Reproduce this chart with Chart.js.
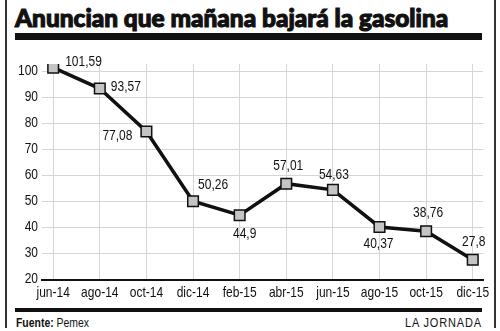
<!DOCTYPE html>
<html>
<head>
<meta charset="utf-8">
<script src="https://cdn.jsdelivr.net/npm/chart.js@4.4.1/dist/chart.umd.min.js"></script>
<style>
  html, body { margin: 0; padding: 0; background: #fff; }
  #wrap { position: relative; width: 500px; height: 331px; overflow: hidden; }
  #chart { position: absolute; left: 0; top: 0; }
  .vline { position: absolute; top: 0; width: 1.5px; height: 328px; background: #333; }
  .title { position: absolute; left: 15px; top: 3px; font-family: Lato, Roboto, "Liberation Sans", sans-serif;
           font-weight: 900; font-size: 24px; color: #111; white-space: nowrap; transform-origin: left top;
           -webkit-text-stroke: 1.1px #111; }
  .bar { position: absolute; left: 15px; width: 467px; background: #111; }
  .foot { position: absolute; top: 315px; font-family: "Liberation Sans", sans-serif;
          font-size: 13px; color: #111; white-space: nowrap; }
</style>
</head>
<body>
<div id="wrap">
  <div class="vline" style="left:5px"></div>
  <div class="vline" style="left:494px"></div>
  <div class="title" id="title">Anuncian que mañana bajará la gasolina</div>
  <div class="bar" style="top:33px;height:7px"></div>
  <canvas id="chart" width="500" height="305"></canvas>
  <div class="bar" style="top:308px;height:4px"></div>
  <div class="foot" id="fuente" style="left:16px;transform-origin:left top"><b>Fuente:</b> Pemex</div>
  <div class="foot" id="jornada" style="right:18px;transform-origin:right top;letter-spacing:1px">LA JORNADA</div>
</div>
<script>
// months shown on the x axis
const months = ["jun-14", "ago-14", "oct-14", "dic-14", "feb-15", "abr-15", "jun-15", "ago-15", "oct-15", "dic-15"];
// price values (dollars per barrel)
const prices = [101.59, 93.57, 77.08, 50.26, 44.9, 57.01, 54.63, 40.37, 38.76, 27.8];
// y axis ticks
const yTicks = [20, 30, 40, 50, 60, 70, 80, 90, 100];

// where each value label goes relative to its point: [dx, dy, align]
const labelPlace = [
  [12, -6, "left"], [11, -2, "left"], [-14, 4, "right"], [5, -16, "left"], [5, 19, "center"],
  [2, -18, "center"], [1, -15, "center"], [-1, 17, "center"], [2, -18, "center"], [1, -18, "center"]
];

const fmt = (v) => String(v).replace(".", ",");
const squeeze = 0.8; // condensed look, no narrow font available
const labelFont = '15px "Liberation Sans", Arial, sans-serif';

// write text squeezed horizontally
function narrowText(ctx, txt, x, y, align) {
  ctx.save();
  ctx.translate(x, y);
  ctx.scale(squeeze, 1);
  ctx.textAlign = align;
  ctx.fillText(txt, 0, 0);
  ctx.restore();
}

// plugin for tick labels and the value next to each point
const condensedText = {
  id: "condensedText",
  afterDraw(chart) {
    const ctx = chart.ctx;
    const xs = chart.scales.x;
    const ys = chart.scales.y;
    ctx.save();
    ctx.font = labelFont;
    ctx.fillStyle = "#111";
    ctx.textBaseline = "middle";
    months.forEach((m, i) => narrowText(ctx, m, xs.getPixelForValue(i), chart.chartArea.bottom + 13, "center"));
    yTicks.forEach((v) => narrowText(ctx, String(v), 38, ys.getPixelForValue(v) - 1, "right"));
    const meta = chart.getDatasetMeta(0);
    meta.data.forEach((pt, i) => {
      const p = labelPlace[i];
      narrowText(ctx, fmt(prices[i]), pt.x + p[0], pt.y + p[1], p[2]);
    });
    ctx.restore();
  }
};

const ctx = document.getElementById("chart").getContext("2d");
new Chart(ctx, {
  type: "line",
  data: {
    datasets: [{
      data: prices.map((v, i) => ({ x: i, y: v })),
      borderColor: "#111",
      borderWidth: 3.5,
      pointStyle: "rect",
      pointRadius: 7.5,
      pointBackgroundColor: "#c4c4c4",
      pointBorderColor: "#111",
      pointBorderWidth: 1.5,
      tension: 0
    }]
  },
  options: {
    responsive: false,
    animation: false,
    layout: { padding: { top: 64, right: 17, left: 0, bottom: 0 } },
    plugins: { legend: { display: false }, tooltip: { enabled: false } },
    scales: {
      x: {
        type: "linear",
        min: -0.24,
        max: 9.22,
        afterBuildTicks: (axis) => { axis.ticks = months.map((m, i) => ({ value: i })); },
        afterFit: (axis) => { axis.height = 25; },
        ticks: { display: false },
        grid: { color: "#d6d6d6", lineWidth: 1, drawTicks: false },
        border: { display: true, color: "#111", width: 2 }
      },
      y: {
        min: 20,
        max: 103,
        afterBuildTicks: (axis) => { axis.ticks = yTicks.map((v) => ({ value: v })); },
        afterFit: (axis) => { axis.width = 42; },
        ticks: { display: false },
        grid: { color: "#d6d6d6", lineWidth: 1, drawTicks: false },
        border: { display: false }
      }
    }
  },
  plugins: [condensedText]
});

// fit header and footer texts to the widths in the original
function fitWidth(id, w) {
  const el = document.getElementById(id);
  el.style.transform = "scaleX(" + (w / el.offsetWidth) + ")";
}
fitWidth("title", 433);
fitWidth("fuente", 73);
fitWidth("jornada", 77);
</script>
</body>
</html>
